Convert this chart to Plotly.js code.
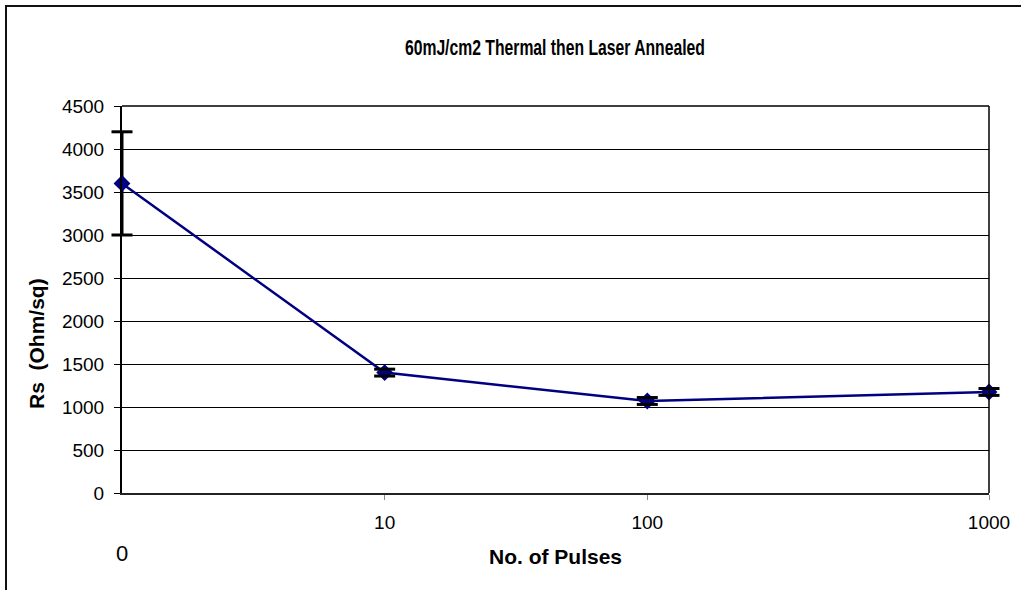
<!DOCTYPE html>
<html>
<head>
<meta charset="utf-8">
<script src="https://cdn.plot.ly/plotly-3.0.1.min.js"></script>
<style>
  html, body { margin: 0; padding: 0; background: #fff; }
  #wrap { position: relative; width: 1021px; height: 590px; overflow: hidden; }
  #frame { position: absolute; left: 5px; top: 5px; width: 1100px; height: 700px;
           border-left: 2px solid #111; border-top: 2px solid #111; pointer-events: none; z-index: 5; }
  #chart { position: absolute; left: 0; top: 0; width: 1021px; height: 590px; }
</style>
</head>
<body>
<div id="wrap">
  <div id="chart"></div>
  <div id="frame"></div>
</div>
<script>
// Data
const pulseLabels = ["0", "10", "100", "1000"];
const pulsePos = [1, 10, 100, 2000];      // positions on the log x axis as drawn
const rsValues = [3600, 1400, 1070, 1175]; // Rs (Ohm/sq)
const rsErrors = [600, 40, 40, 40];

const mainTrace = {
  x: pulsePos,
  y: rsValues,
  type: 'scatter',
  mode: 'lines+markers',
  line: { color: '#000080', width: 2.5 },
  marker: { symbol: 'diamond', size: 13, color: '#000080' },
  error_y: { type: 'data', array: rsErrors, visible: true, color: '#000000', thickness: 3, width: 0 },
  cliponaxis: false,
  showlegend: false,
  hoverinfo: 'x+y'
};

// error-bar caps (drawn as unclipped markers so the cap on the axis is whole)
const capX = pulsePos.concat(pulsePos);
const capY = rsValues.map((v, i) => v + rsErrors[i]).concat(rsValues.map((v, i) => v - rsErrors[i]));
const capTrace = {
  x: capX,
  y: capY,
  type: 'scatter',
  mode: 'markers',
  marker: { symbol: 'line-ew', size: 15, line: { color: '#000000', width: 3 } },
  cliponaxis: false,
  showlegend: false,
  hoverinfo: 'skip'
};

const layout = {
  width: 1021,
  height: 590,
  margin: { l: 122, r: 32, t: 106, b: 97 },
  paper_bgcolor: '#ffffff',
  plot_bgcolor: '#ffffff',
  font: { family: 'Liberation Sans, Arial, sans-serif', color: '#000000', size: 19 },
  title: {
    text: '<b>60mJ/cm2 Thermal then Laser Annealed</b>',
    font: { family: 'Liberation Sans, Arial, sans-serif', size: 22, color: '#000000' },
    x: 0.5435, xanchor: 'center', y: 0.92, yanchor: 'middle'
  },
  xaxis: {
    type: 'log',
    range: [0, Math.log10(pulsePos[3])],
    tickmode: 'array',
    tickvals: pulsePos.slice(1),
    ticktext: pulseLabels.slice(1),
    ticks: 'outside', ticklen: 5, tickcolor: '#888888', tickwidth: 1,
    ticklabelstandoff: 6,
    showgrid: false, zeroline: false,
    showline: true, linecolor: '#222222', linewidth: 2, mirror: false,
    tickfont: { size: 19, color: '#000000' },
    title: { text: '<b>No. of Pulses</b>', font: { size: 21, color: '#000000' }, standoff: 18 }
  },
  yaxis: {
    range: [0, 4500],
    tickvals: [0, 500, 1000, 1500, 2000, 2500, 3000, 3500, 4000, 4500],
    ticks: 'outside', ticklen: 6, tickcolor: '#000000', tickwidth: 1,
    ticklabelstandoff: 6,
    showgrid: true, gridcolor: '#000000', gridwidth: 1,
    zeroline: false,
    showline: true, linecolor: '#000000', linewidth: 2,
    tickfont: { size: 19, color: '#000000' }
  },
  shapes: [
    { type: 'line', xref: 'paper', yref: 'paper', x0: 1, x1: 1, y0: 0, y1: 1,
      line: { color: '#000000', width: 1.5 } },
    { type: 'line', xref: 'paper', yref: 'paper', x0: 0, x1: 1, y0: 1, y1: 1,
      line: { color: '#000000', width: 1.5 } }
  ],
  annotations: [
    { x: 0, xref: 'x', y: 0, yref: 'paper', yshift: -60, text: pulseLabels[0],
      showarrow: false, font: { size: 22, color: '#000000' }, xanchor: 'center', yanchor: 'middle' },
    { x: 0, xref: 'paper', xshift: -86, y: 0.385, yref: 'paper', textangle: -90,
      text: '<b>Rs&nbsp;&nbsp;(Ohm/sq)</b>', showarrow: false,
      font: { size: 21, color: '#000000' }, xanchor: 'center', yanchor: 'middle' }
  ]
};

Plotly.newPlot('chart', [mainTrace, capTrace], layout, { displayModeBar: false, staticPlot: true })
  .then(function () {
    // condense the title to the narrow width seen in the reference
    const t = document.querySelector('#chart .gtitle');
    if (t) {
      t.setAttribute('textLength', '300');
      t.setAttribute('lengthAdjust', 'spacingAndGlyphs');
    }
  });
</script>
</body>
</html>
